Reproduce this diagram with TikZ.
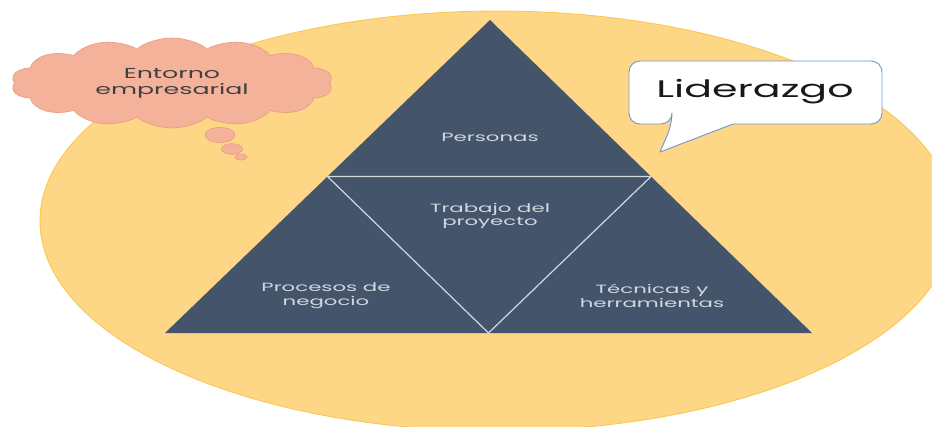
\documentclass[tikz,border=0pt]{standalone}
\usepackage{fontspec}
\setmainfont{Poppins}
\usepackage{tikz}
\usetikzlibrary{shapes.symbols,calc}
\definecolor{fondo}{HTML}{FDD686}
\definecolor{fondoborde}{HTML}{FBC54A}
\definecolor{pizarra}{HTML}{44546A}
\definecolor{separa}{HTML}{D3D8E0}
\definecolor{nube}{HTML}{F4B29A}
\definecolor{nubeborde}{HTML}{EC9A7C}
\definecolor{globoborde}{HTML}{6F95D5}

\begin{document}
\begin{tikzpicture}[x=1bp,y=-1bp,
  txt/.style={text=separa,align=center,xscale=1.78,inner sep=0pt,
    font=\fontsize{12}{14}\selectfont},
  nubestyle/.style={fill=nube,draw=nubeborde,line width=0.6bp}]
\useasboundingbox (0,0) rectangle (932,426);

\filldraw[fill=fondo,draw=fondoborde,line width=0.8bp] (497,221) ellipse [x radius=457bp,y radius=210bp];

\coordinate (A) at (490,20);
\coordinate (L) at (165,333);
\coordinate (R) at (812,333);
\coordinate (ML) at ($(A)!.5!(L)$);
\coordinate (MR) at ($(A)!.5!(R)$);
\coordinate (MB) at ($(L)!.5!(R)$);
\fill[pizarra] (A) -- (L) -- (R) -- cycle;
\draw[separa,line width=1.2bp,line join=round] (ML) -- (MR) -- (MB) -- cycle;

\foreach \n/\x/\y/\t in {personas/490/137/{Personas},trabajo/490/216/{Trabajo del\\proyecto},
  procesos/326/296/{Procesos de\\negocio},tecnicas/652/296/{Técnicas y\\herramientas}}{
\node[txt] (\n) at (\x,\y){\t};}

\node[cloud,cloud puffs=14,cloud puff arc=115,aspect=2,nubestyle,xscale=1.75,
  minimum width=184bp,minimum height=90bp,inner sep=0pt,align=center,text=black!75,
  font=\fontsize{14.5}{16}\selectfont] (entorno) at (172,83) {Entorno\\empresarial};
\foreach \x/\y/\rx/\ry in {220/135/15/7.5,232/149/10.5/5.3,241/157/6/3}{
\filldraw[nubestyle] (\x,\y) ellipse [x radius=\rx bp,y radius=\ry bp];}

\filldraw[fill=white,draw=globoborde,line width=0.9bp,line join=round]
  (672,124) -- (660,152) -- (733,124) [rounded corners=11bp] -- (882,124) -- (882,61)
  -- (629,61) -- (629,124) -- (672,124) -- cycle;
\node[xscale=1.72,font=\fontsize{24}{26}\selectfont,text=black!90] (liderazgo) at (755,92) {Liderazgo};

\end{tikzpicture}
\end{document}
